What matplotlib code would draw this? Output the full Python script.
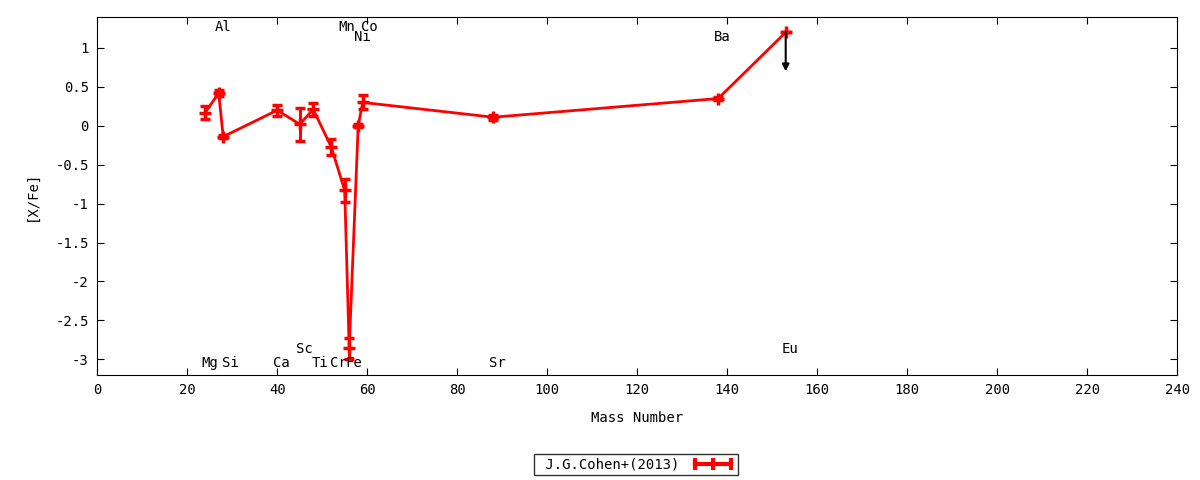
import matplotlib
matplotlib.use("Agg")
import matplotlib.pyplot as plt
from matplotlib.lines import Line2D

plt.rcParams['font.family'] = ['DejaVu Sans Mono']
plt.rcParams['font.size'] = 9.5

# Cohen et al. (2013) abundances vs mass number
elements = ['Mg', 'Al', 'Si', 'Ca', 'Sc', 'Ti', 'Cr', 'Mn', 'Fe', 'Ni', 'Co', 'Sr', 'Ba', 'Eu']
mass = [24, 27, 28, 40, 45, 48, 52, 55, 56, 58, 59, 88, 138, 153]
xfe = [0.17, 0.42, -0.14, 0.20, 0.02, 0.21, -0.27, -0.83, -2.86, 0.00, 0.30, 0.11, 0.35, 1.20]
err = [0.08, 0.04, 0.02, 0.07, 0.21, 0.08, 0.10, 0.15, 0.14, 0.02, 0.09, 0.03, 0.02, 0.0]

# element label positions (x, y)
label_x = [25, 28, 29.5, 41, 46, 49.5, 53.5, 55.5, 57, 59, 60.5, 89, 139, 154]
label_y = [-3.05, 1.27, -3.05, -3.05, -2.87, -3.05, -3.05, 1.27, -3.05, 1.14, 1.27, -3.05, 1.14, -2.87]

# upper limit (Eu)
lim_x = 153
lim_y = 1.20
lim_len = 0.5

fig = plt.figure(figsize=(12, 4.8), dpi=100)
ax = fig.add_axes([0.081, 0.219, 0.9, 0.746])

ax.errorbar(mass, xfe, yerr=err, color='red', lw=2, elinewidth=2.2,
            capsize=3.5, capthick=2.5, marker='+', ms=8, mew=2.5)

ax.annotate('', xy=(lim_x, lim_y - lim_len), xytext=(lim_x, lim_y),
            arrowprops=dict(arrowstyle='-|>', color='black', lw=1.5,
                            mutation_scale=10, shrinkA=0, shrinkB=0))

for el, lx, ly in zip(elements, label_x, label_y):
    ax.text(lx, ly, el, ha='center', va='center', fontsize=10)

ax.set_xlim(0, 240)
ax.set_ylim(-3.2, 1.4)
ax.set_xticks(range(0, 241, 20))
ax.set_yticks([-3, -2.5, -2, -1.5, -1, -0.5, 0, 0.5, 1])
ax.set_yticklabels(['-3', '-2.5', '-2', '-1.5', '-1', '-0.5', '0', '0.5', '1'])
ax.tick_params(direction='in', top=True, right=True, length=5, labelsize=10, pad=6)

ax.set_xlabel('Mass Number', fontsize=10, labelpad=10)
ax.set_ylabel('[X/Fe]', fontsize=10, labelpad=12)

# gnuplot-like key sample: horizontal line with ticks at ends and middle
proxy = Line2D([], [], color='red', lw=3, marker='|', ms=9, mew=3)
leg = fig.legend([proxy], [' J.G.Cohen+(2013)'], loc='center',
                 bbox_to_anchor=(0.53, 0.032), frameon=True, numpoints=3,
                 fancybox=False, edgecolor='black', markerfirst=False,
                 handlelength=3.2, fontsize=10, borderpad=0.25)
leg.get_frame().set_linewidth(1)

fig.savefig('out.png', dpi=100)
